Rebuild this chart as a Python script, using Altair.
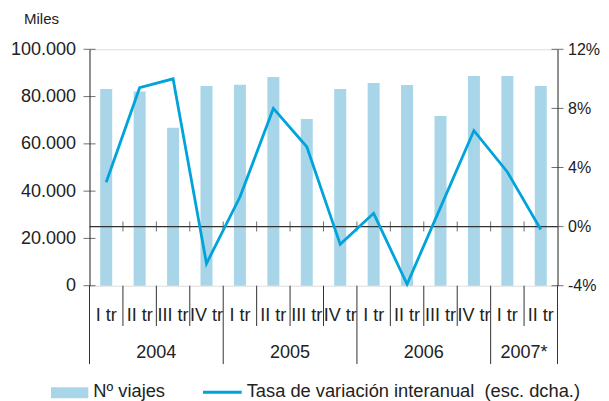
import altair as alt
import pandas as pd
import numpy as np

quarters = ["I tr", "II tr", "III tr", "IV tr"] * 3 + ["I tr", "II tr"]
years = ["2004", "2005", "2006", "2007*"]
year_counts = [4, 4, 4, 2]
viajes = [83200, 82100, 66800, 84500, 85000, 88300, 70500,
          83200, 85700, 84900, 71800, 88700, 88700, 84500]
tasa = [3.0, 9.4, 10.0, -2.5, 2.0, 8.0, 5.4, -1.2, 0.9, -3.9, 1.3, 6.5, 3.7, -0.2]
left_ticks = [0, 20000, 40000, 60000, 80000, 100000]
right_ticks = [-4, 0, 4, 8, 12]

FONT = "Liberation Sans"
BAR = "#a8d6e8"
LINE = "#00a3db"
AX = "#333333"
TXT = "#222222"

W, H = 468, 236.4
n = len(quarters)

df = pd.DataFrame({"pos": np.arange(n) + 0.5, "q": quarters,
                   "viajes": viajes, "tasa": tasa})
starts = np.concatenate([[0], np.cumsum(year_counts)[:-1]])
ydf = pd.DataFrame({"year": years, "pos": starts + np.array(year_counts) / 2})
year_b = list(starts) + [n]
year_bdf = pd.DataFrame({"b": year_b})
q_bdf = pd.DataFrame({"b": [b for b in range(1, n) if b not in year_b]})
inner_bdf = pd.DataFrame({"b": list(range(1, n))})
lt = pd.DataFrame({"v": left_ticks, "x": [0] * len(left_ticks)})
rt = pd.DataFrame({"v": right_ticks, "x": [n] * len(right_ticks)})

xs = alt.Scale(domain=[0, n], nice=False, zero=False, padding=0)
ysl = alt.Scale(domain=[0, 100000], nice=False, padding=0)
ysr = alt.Scale(domain=[-4, 12], nice=False, padding=0)

left_axis = alt.Axis(orient="left", values=left_ticks, title=None, grid=False,
                     ticks=False, labelPadding=14, domainColor=AX,
                     labelExpr="replace(format(datum.value, ','), ',', '.')",
                     labelFont=FONT, labelFontSize=18, labelColor=TXT)
right_axis = alt.Axis(orient="right", values=right_ticks, title=None, grid=False,
                      ticks=False, labelPadding=10, domainColor=AX,
                      labelExpr="datum.value + '%'",
                      labelFont=FONT, labelFontSize=16, labelColor=TXT)

bars = alt.Chart(df).mark_bar(size=12, color=BAR).encode(
    x=alt.X("pos:Q", scale=xs, axis=None),
    y=alt.Y("viajes:Q", scale=ysl, axis=left_axis),
)
lticks = alt.Chart(lt).mark_tick(orient="horizontal", size=12, thickness=1, color=AX).encode(
    x=alt.X("x:Q", scale=xs, axis=None),
    y=alt.Y("v:Q", scale=ysl, axis=left_axis),
)
qsep = alt.Chart(q_bdf).mark_rule(color=AX, strokeWidth=1).encode(
    x=alt.X("b:Q", scale=xs, axis=None),
    y=alt.value(H), y2=alt.value(H + 40.3),
)
ysep = alt.Chart(year_bdf).mark_rule(color=AX, strokeWidth=1).encode(
    x=alt.X("b:Q", scale=xs, axis=None),
    y=alt.value(H), y2=alt.value(H + 78.4),
)
qlab = alt.Chart(df).mark_text(font=FONT, fontSize=18, color=TXT, baseline="middle").encode(
    x=alt.X("pos:Q", scale=xs, axis=None),
    y=alt.value(H + 30),
    text="q:N",
)
ylab = alt.Chart(ydf).mark_text(font=FONT, fontSize=18, color=TXT, baseline="middle").encode(
    x=alt.X("pos:Q", scale=xs, axis=None),
    y=alt.value(H + 67.5),
    text="year:N",
)
one = pd.DataFrame({"a": [0]})
miles = alt.Chart(one).mark_text(text="Miles", font=FONT, fontSize=15, color=TXT,
                                 align="left", baseline="middle").encode(
    x=alt.value(-65.5), y=alt.value(-30))
leg_rect = alt.Chart(one).mark_rect(color=BAR).encode(
    x=alt.value(-38.5), x2=alt.value(-1.2), y=alt.value(338), y2=alt.value(349))
leg_t1 = alt.Chart(one).mark_text(text="Nº viajes", font=FONT, fontSize=18.3, color=TXT,
                                  align="left", baseline="middle").encode(
    x=alt.value(3.8), y=alt.value(342.5))
leg_line = alt.Chart(one).mark_rule(color=LINE, strokeWidth=3).encode(
    x=alt.value(113.5), x2=alt.value(152.2), y=alt.value(343))
leg_t2 = alt.Chart(one).mark_text(text="Tasa de variación interanual\u00a0 (esc. dcha.)",
                                  font=FONT, fontSize=18.3, color=TXT,
                                  align="left", baseline="middle").encode(
    x=alt.value(157.2), y=alt.value(342.5))

left = alt.layer(bars, lticks, qsep, ysep, qlab, ylab, miles,
                 leg_rect, leg_t1, leg_line, leg_t2)

zero = alt.Chart(one).mark_rule(color=AX, strokeWidth=1.3).encode(
    y=alt.YDatum(0, scale=ysr, axis=right_axis))
zticks = alt.Chart(inner_bdf).mark_tick(orient="vertical", size=10, thickness=1, color=AX).encode(
    x=alt.X("b:Q", scale=xs, axis=None),
    y=alt.YDatum(0, scale=ysr, axis=right_axis))
rticks = alt.Chart(rt).mark_tick(orient="horizontal", size=12, thickness=1, color=AX).encode(
    x=alt.X("x:Q", scale=xs, axis=None),
    y=alt.Y("v:Q", scale=ysr, axis=right_axis))
line = alt.Chart(df).mark_line(color=LINE, strokeWidth=2.8).encode(
    x=alt.X("pos:Q", scale=xs, axis=None),
    y=alt.Y("tasa:Q", scale=ysr, axis=right_axis))

right = alt.layer(zero, zticks, rticks, line)

chart = alt.layer(left, right).resolve_scale(y="independent").properties(
    width=W, height=H,
    autosize=alt.AutoSizeParams(type="none"),
    padding={"left": 81.5, "top": 41.3, "right": 43.5, "bottom": 115.3},
).configure_view(stroke=None).configure(background="white")

chart.save("out.html", embed_options={"renderer": "svg", "actions": False})
